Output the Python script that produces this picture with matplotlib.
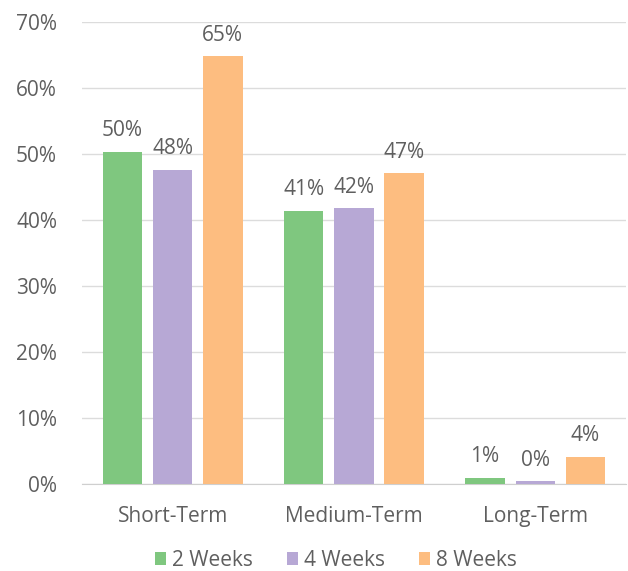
import numpy as np
import matplotlib
matplotlib.use("Agg")
import matplotlib.pyplot as plt
from matplotlib.ticker import FuncFormatter

plt.rcParams['font.family'] = ['Open Sans', 'DejaVu Sans']

categories = ["Short-Term", "Medium-Term", "Long-Term"]
series_names = ["2 Weeks", "4 Weeks", "8 Weeks"]
weeks2 = [50.3, 41.4, 0.9]
weeks4 = [47.6, 41.8, 0.4]
weeks8 = [64.8, 47.1, 4.1]
colors = ["#7fc77f", "#b7a8d5", "#fdbd80"]

text_color = "#5f5f5f"
fs = 15

fig = plt.figure(figsize=(6.28, 5.71), dpi=100)
ax = fig.add_axes([0.1306, 0.1524, 0.866, 0.809])

x = np.arange(len(categories))
step = 0.277
width = 0.217
for i, (name, vals, col) in enumerate(zip(series_names, [weeks2, weeks4, weeks8], colors)):
    pos = x + (i - 1) * step
    bars = ax.bar(pos, vals, width=width, color=col, label=name, zorder=3)
    for b, v in zip(bars, vals):
        ax.text(b.get_x() + b.get_width() / 2, v + 1.6, f"{round(v)}%",
                ha="center", va="bottom", fontsize=fs, color=text_color)

ax.set_xlim(-0.5, 2.5)
ax.set_ylim(0, 70)
ax.set_yticks(np.arange(0, 71, 10))
ax.yaxis.set_major_formatter(FuncFormatter(lambda v, p: f"{int(v)}%"))
ax.set_xticks(x)
ax.set_xticklabels(categories)
ax.grid(axis="y", color="#dcdcdc", linewidth=1, zorder=0)
for s in ["top", "right", "left"]:
    ax.spines[s].set_visible(False)
ax.spines["bottom"].set_color("#cfcfcf")
ax.tick_params(axis="both", length=0, labelsize=fs, colors=text_color)
ax.tick_params(axis="y", pad=18)
ax.tick_params(axis="x", pad=16)

fig.legend(loc="center", bbox_to_anchor=(0.535, 0.019), ncol=3, frameon=False,
           fontsize=fs, labelcolor=text_color, handlelength=0.55, handleheight=0.55,
           handletextpad=0.3, columnspacing=1.6)

fig.savefig("out.png", dpi=100)
